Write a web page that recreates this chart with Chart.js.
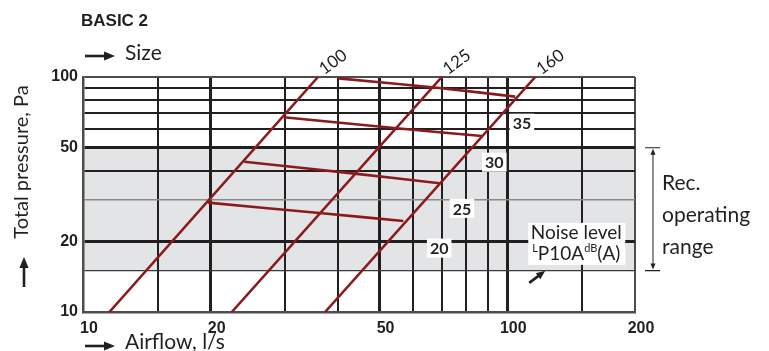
<!DOCTYPE html>
<html>
<head>
<meta charset="utf-8">
<script src="https://cdn.jsdelivr.net/npm/chart.js@4.4.0/dist/chart.umd.min.js"></script>
<style>
  html, body { margin: 0; padding: 0; background: #fff; }
</style>
</head>
<body>
<canvas id="chart" width="769" height="351"></canvas>
<script>
// axis ticks (log scales)
const xTicks = [10, 15, 20, 30, 40, 50, 60, 70, 80, 90, 100, 150, 200];
const xLabels = [10, 20, 50, 100, 200];
const yTicks = [10, 15, 20, 30, 40, 50, 60, 70, 80, 90, 100];
const yLabels = [10, 20, 50, 100];

// duct size curves, airflow l/s vs pressure Pa
const sizeNames = ['100', '125', '160'];
const size100 = [{ x: 11.54, y: 10 }, { x: 35.8, y: 100 }];
const size125 = [{ x: 22.42, y: 10 }, { x: 70.1, y: 100 }];
const size160 = [{ x: 37.2, y: 10 }, { x: 116.4, y: 100 }];

// noise level curves dB(A)
const noiseNames = ['35', '30', '25', '20'];
const noise35 = [{ x: 40, y: 98.7 }, { x: 68.3, y: 90 }, { x: 104.4, y: 82.5 }];
const noise30 = [{ x: 29.7, y: 67.4 }, { x: 54.9, y: 60.5 }, { x: 87.2, y: 56.1 }];
const noise25 = [{ x: 24.0, y: 43.6 }, { x: 44.2, y: 38.7 }, { x: 69.2, y: 35.3 }];
const noise20 = [{ x: 19.7, y: 29.2 }, { x: 36.6, y: 26.3 }, { x: 56.9, y: 24.4 }];
// where the noise numbers sit
const noiseLabelX = [108.3, 93.2, 78.2, 69.1];
const noiseLabelY = [63.6, 43.4, 27.6, 18.7];

// recommended operating range, Pa
const rangeLow = 15;
const rangeHigh = 50;

const red = '#8b1a1d';
const ink = '#231f20';
const sans = 'Lato';

function arrow(ctx, x1, y1, x2, y2, w, head) {
    const a = Math.atan2(y2 - y1, x2 - x1);
    const c = Math.cos(a), s = Math.sin(a);
    ctx.save();
    ctx.strokeStyle = ink;
    ctx.fillStyle = ink;
    ctx.lineWidth = w;
    ctx.beginPath();
    ctx.moveTo(x1, y1);
    ctx.lineTo(x2 - c * head * 0.8, y2 - s * head * 0.8);
    ctx.stroke();
    ctx.beginPath();
    ctx.moveTo(x2, y2);
    ctx.lineTo(x2 - head * c + head * 0.42 * s, y2 - head * s - head * 0.42 * c);
    ctx.lineTo(x2 - head * c - head * 0.42 * s, y2 - head * s + head * 0.42 * c);
    ctx.closePath();
    ctx.fill();
    ctx.restore();
}

const shading = {
    id: 'shading',
    beforeDraw(chart) {
        const { ctx, chartArea, scales } = chart;
        const yTop = scales.y.getPixelForValue(rangeHigh);
        const yBot = scales.y.getPixelForValue(rangeLow);
        ctx.save();
        ctx.fillStyle = '#e3e4e6';
        ctx.fillRect(chartArea.left, yTop, chartArea.right - chartArea.left, yBot - yTop);
        ctx.restore();
    }
};

const annotations = {
    id: 'annotations',
    afterDraw(chart) {
        const { ctx, chartArea, scales } = chart;
        const left = chartArea.left, top = chartArea.top, bottom = chartArea.bottom, right = chartArea.right;
        ctx.save();
        ctx.fillStyle = ink;

        // title
        ctx.font = 'bold 17px "Liberation Sans"';
        ctx.textAlign = 'left';
        ctx.textBaseline = 'middle';
        ctx.fillText('BASIC 2', left - 2, 21);

        // size header + airflow title
        ctx.font = '21px ' + sans;
        ctx.fillText('Size', left + 42, top - 24);
        arrow(ctx, left + 2, top - 21, left + 32, top - 21, 2.6, 11);
        ctx.fillText('Airflow, l/s', left + 42, bottom + 30);
        arrow(ctx, left + 2, bottom + 34, left + 32, bottom + 34, 2.6, 11);

        // y title
        ctx.save();
        ctx.translate(22, 162);
        ctx.rotate(-Math.PI / 2);
        ctx.textAlign = 'center';
        ctx.font = '20px ' + sans;
        ctx.fillText('Total pressure, Pa', 0, 0);
        ctx.restore();
        arrow(ctx, 24, 287, 24, 257, 2.6, 11);

        // size labels along the top
        const sizes = [size100, size125, size160];
        ctx.font = '17px ' + sans;
        sizes.forEach((s, i) => {
            const px = scales.x.getPixelForValue(s[1].x) + 15;
            ctx.save();
            ctx.translate(px, top - 15);
            ctx.rotate(-36 * Math.PI / 180);
            ctx.textAlign = 'center';
            ctx.fillText(sizeNames[i], 0, 0);
            ctx.restore();
        });

        // noise numbers
        ctx.font = 'bold 16px ' + sans;
        ctx.textAlign = 'center';
        noiseNames.forEach((n, i) => {
            const px = scales.x.getPixelForValue(noiseLabelX[i]);
            const py = scales.y.getPixelForValue(noiseLabelY[i]);
            const w = ctx.measureText(n).width + 6;
            ctx.fillStyle = '#fff';
            ctx.fillRect(px - w / 2, py - 9.5, w, 19);
            ctx.fillStyle = ink;
            ctx.fillText(n, px, py + 1);
        });

        // noise level box
        const bx = scales.x.getPixelForValue(145.4);
        const by = scales.y.getPixelForValue(19.5);
        ctx.fillStyle = '#fff';
        ctx.fillRect(bx - 48, by - 21, 97, 42);
        ctx.fillStyle = ink;
        ctx.font = '19px ' + sans;
        ctx.textAlign = 'center';
        ctx.fillText('Noise level', bx, by - 11);
        const parts = [['L', 11, -5], ['P10A', 19, 0], ['dB', 11, -5], ['(A)', 19, 0]];
        let total = 0;
        parts.forEach(p => { ctx.font = p[1] + 'px ' + sans; total += ctx.measureText(p[0]).width; });
        let cx = bx - total / 2;
        ctx.textAlign = 'left';
        parts.forEach(p => {
            ctx.font = p[1] + 'px ' + sans;
            ctx.fillText(p[0], cx, by + 10 + p[2]);
            cx += ctx.measureText(p[0]).width;
        });
        arrow(ctx, bx - 47, by + 39, bx - 31, by + 27, 2.6, 9);

        // recommended range bracket
        const yHi = scales.y.getPixelForValue(rangeHigh);
        const yLo = scales.y.getPixelForValue(rangeLow);
        const rx = right + 18;
        ctx.strokeStyle = ink;
        ctx.lineWidth = 1.2;
        ctx.beginPath();
        ctx.moveTo(rx - 8, yHi); ctx.lineTo(rx + 7, yHi);
        ctx.moveTo(rx - 8, yLo); ctx.lineTo(rx + 7, yLo);
        ctx.stroke();
        const mid = (yHi + yLo) / 2;
        arrow(ctx, rx, mid, rx, yHi + 1, 1, 6);
        arrow(ctx, rx, mid, rx, yLo - 1, 1, 6);
        ctx.font = '21px ' + sans;
        ctx.textAlign = 'left';
        ctx.fillText('Rec.', right + 27, 183);
        ctx.fillText('operating', right + 27, 215);
        ctx.fillText('range', right + 27, 247);

        ctx.restore();
    }
};

function curve(data, tension) {
    return {
        data: data,
        showLine: true,
        borderColor: red,
        borderWidth: 2.6,
        pointRadius: 0,
        tension: tension,
        fill: false
    };
}

new Chart(document.getElementById('chart'), {
    type: 'scatter',
    data: {
        datasets: [
            curve(noise35, 0.3),
            curve(noise30, 0.3),
            curve(noise25, 0.3),
            curve(noise20, 0.3),
            curve(size100, 0),
            curve(size125, 0),
            curve(size160, 0)
        ]
    },
    options: {
        responsive: false,
        animation: false,
        layout: { padding: { top: 77, right: 134, left: 0, bottom: 0 } },
        plugins: {
            legend: { display: false },
            tooltip: { enabled: false }
        },
        scales: {
            x: {
                type: 'logarithmic',
                min: 10,
                max: 200,
                afterBuildTicks: scale => { scale.ticks = xTicks.map(v => ({ value: v })); },
                afterFit: scale => { scale.height = 39; },
                border: { display: true, color: '#4d4d4d', width: 2.5 },
                grid: {
                    drawTicks: false,
                    color: ctx => (ctx.tick && (ctx.tick.value === 10 || ctx.tick.value === 200)) ? '#4d4d4d' : ink,
                    lineWidth: ctx => {
                        const v = ctx.tick ? ctx.tick.value : 0;
                        if (v === 20 || v === 50 || v === 100) return 3;
                        return 2;
                    }
                },
                ticks: {
                    autoSkip: false,
                    maxRotation: 0,
                    padding: 7,
                    labelOffset: 6,
                    color: ink,
                    font: { family: 'Liberation Sans', weight: 'bold', size: 16 },
                    callback: v => xLabels.includes(v) ? String(v) : ''
                }
            },
            y: {
                type: 'logarithmic',
                min: 10,
                max: 100,
                afterBuildTicks: scale => { scale.ticks = yTicks.map(v => ({ value: v })); },
                afterFit: scale => { scale.width = 83; },
                border: { display: true, color: '#4d4d4d', width: 2.5 },
                grid: {
                    drawTicks: false,
                    color: ctx => {
                        const v = ctx.tick ? ctx.tick.value : 0;
                        if (v === 10 || v === 100) return '#4d4d4d';
                        if (v === 30) return '#8a8a8a';
                        if (v === 15) return '#3a3a3a';
                        return ink;
                    },
                    lineWidth: ctx => {
                        const v = ctx.tick ? ctx.tick.value : 0;
                        if (v === 20 || v === 50) return 3;
                        if (v === 30) return 1.5;
                        if (v === 15) return 1.2;
                        return 2;
                    }
                },
                ticks: {
                    autoSkip: false,
                    padding: 5,
                    color: ink,
                    font: { family: 'Liberation Sans', weight: 'bold', size: 16 },
                    callback: v => yLabels.includes(v) ? String(v) : ''
                }
            }
        }
    },
    plugins: [shading, annotations]
});
</script>
</body>
</html>
